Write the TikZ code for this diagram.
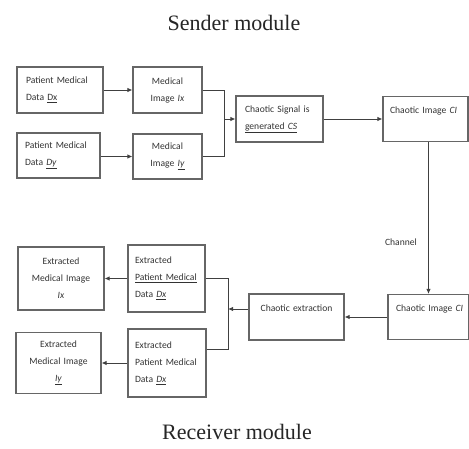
\documentclass[tikz,border=0pt]{standalone}
\usepackage{fontspec}
\setmainfont{Liberation Serif}
\newfontfamily\boxfont{Carlito}
\usetikzlibrary{arrows.meta}

\tikzset{
  blk/.style={draw=black!60, line width=1.1pt, inner sep=0pt,
    font=\boxfont\fontsize{9.6}{17}\selectfont, text=black!80},
  lnk/.style={draw=black!75, line width=0.9pt},
  arr/.style={lnk, -{Latex[length=5pt,width=4.5pt]}},
}

\begin{document}
\begin{tikzpicture}[x=1pt,y=-1pt]
\useasboundingbox (0,0) rectangle (469,449);

\node[font=\fontsize{22}{26}\selectfont, text=black!85] (snd) at (234,23) {Sender module};
\node[font=\fontsize{22}{26}\selectfont, text=black!85] (rcv) at (237,432) {Receiver module};

% sender side
\node[blk, minimum width=86pt, minimum height=46pt, text width=68pt, align=left] (dx) at (60,90)
  {\mbox{Patient Medical}\\Data \underline{Dx}};
\node[blk, minimum width=69pt, minimum height=46pt, text width=60pt, align=center] (ix) at (167.5,90)
  {Medical\\Image \textit{Ix}};
\node[blk, minimum width=83pt, minimum height=45pt, text width=67pt, align=left] (dy) at (58.5,155.5)
  {\mbox{Patient Medical}\\Data \underline{\textit{Dy}}};
\node[blk, minimum width=69pt, minimum height=45pt, text width=60pt, align=center] (iy) at (167.5,156.5)
  {Medical\\Image \underline{\textit{Iy}}};
\node[blk, minimum width=87pt, minimum height=46pt, text width=69pt, align=left] (cs) at (279.5,119)
  {\mbox{Chaotic Signal is}\\\underline{generated \textit{CS}}};
\node[blk, minimum width=85pt, minimum height=45pt, text width=71pt, align=left] (ci) at (425.5,119)
  {\mbox{Chaotic Image \textit{CI}}\\\mbox{}};

\coordinate (jt) at (224,119);
\draw[arr] (dx) -- (ix);
\draw[arr] (dy.east |- iy) -- (iy);
\draw[lnk] (ix) -| (jt);
\draw[lnk] (iy) -| (jt);
\draw[arr] (jt) -- (cs);
\draw[arr] (cs) -- (ci);

% channel
\node[blk, minimum width=81pt, minimum height=45pt, text width=65pt, align=left] (ci2) at (428.5,317)
  {\mbox{Chaotic Image \textit{CI}}\\\mbox{}};
\node[font=\boxfont\fontsize{9.6}{12}\selectfont, text=black!80] (chn) at (401,242) {Channel};
\draw[arr] (ci.south -| ci2.north) -- (ci2.north);

% receiver side
\node[blk, minimum width=95pt, minimum height=46pt, text width=85pt, align=center] (ce) at (296.5,317)
  {Chaotic extraction\\\mbox{}};
\node[blk, minimum width=77pt, minimum height=67pt, text width=63pt, align=left] (ex1) at (166.5,278.5)
  {Extracted\\\underline{\mbox{Patient Medical}}\\Data \underline{\textit{Dx}}};
\node[blk, minimum width=78pt, minimum height=68pt, text width=64pt, align=left] (ex2) at (167,363)
  {Extracted\\\mbox{Patient Medical}\\Data \underline{\textit{Dx}}};
\node[blk, minimum width=86pt, minimum height=63pt, text width=76pt, align=center] (em1) at (61,278.5)
  {Extracted\\Medical Image\\\textit{Ix}};
\node[blk, minimum width=85pt, minimum height=61pt, text width=75pt, align=center] (em2) at (58.5,363)
  {Extracted\\Medical Image\\\underline{\textit{Iy}}};

\coordinate (jr) at (228,309);
\draw[arr] (ci2) -- (ce);
\draw[arr] (ce.west |- jr) -- (jr);
\draw[lnk] (ex1) -| (jr);
\draw[lnk] (ex2.east) ++(0,-14) coordinate (ex2o) -| (jr);
\draw[arr] (ex1) -- (em1);
\draw[arr] (ex2) -- (em2);

\end{tikzpicture}
\end{document}
